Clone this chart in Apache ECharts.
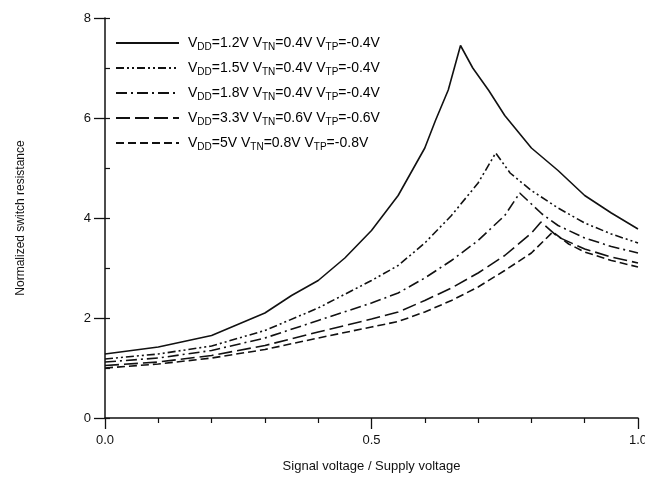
<!DOCTYPE html>
<html>
<head>
<meta charset="utf-8">
<script src="https://cdn.jsdelivr.net/npm/echarts@6/dist/echarts.min.js"></script>
<style>
html, body { margin: 0; padding: 0; background: #fff; }
#chart { width: 645px; height: 479px; }
</style>
</head>
<body>
<div id="chart"></div>
<script>
// supply / threshold labels for each curve
var vdd = ['1.2V', '1.5V', '1.8V', '3.3V', '5V'];
var vtn = ['0.4V', '0.4V', '0.4V', '0.6V', '0.8V'];
var vtp = ['-0.4V', '-0.4V', '-0.4V', '-0.6V', '-0.8V'];

// x = signal voltage / supply voltage, y = normalized switch resistance
var x1 = [0, 0.1, 0.2, 0.3, 0.35, 0.4, 0.45, 0.5, 0.55, 0.6, 0.62, 0.644, 0.667, 0.69, 0.72, 0.75, 0.8, 0.85, 0.9, 0.95, 1.0];
var y1 = [1.28, 1.42, 1.65, 2.1, 2.45, 2.75, 3.2, 3.75, 4.45, 5.4, 5.95, 6.56, 7.45, 7.0, 6.55, 6.05, 5.4, 4.95, 4.45, 4.1, 3.78];

var x2 = [0, 0.1, 0.2, 0.3, 0.4, 0.5, 0.55, 0.6, 0.65, 0.7, 0.733, 0.76, 0.8, 0.85, 0.9, 0.95, 1.0];
var y2 = [1.18, 1.28, 1.44, 1.75, 2.2, 2.75, 3.05, 3.5, 4.05, 4.7, 5.3, 4.9, 4.55, 4.2, 3.9, 3.68, 3.5];

var x3 = [0, 0.1, 0.2, 0.3, 0.4, 0.5, 0.55, 0.6, 0.65, 0.7, 0.75, 0.778, 0.8, 0.82, 0.85, 0.9, 0.95, 1.0];
var y3 = [1.12, 1.2, 1.35, 1.6, 1.95, 2.3, 2.5, 2.8, 3.15, 3.55, 4.05, 4.5, 4.28, 4.08, 3.85, 3.6, 3.43, 3.3];

var x4 = [0, 0.1, 0.2, 0.3, 0.4, 0.5, 0.55, 0.6, 0.65, 0.7, 0.75, 0.8, 0.818, 0.85, 0.9, 0.95, 1.0];
var y4 = [1.05, 1.12, 1.25, 1.45, 1.72, 1.98, 2.12, 2.35, 2.6, 2.9, 3.25, 3.7, 3.92, 3.62, 3.38, 3.22, 3.1];

var x5 = [0, 0.1, 0.2, 0.3, 0.4, 0.5, 0.55, 0.6, 0.65, 0.7, 0.75, 0.8, 0.84, 0.87, 0.9, 0.95, 1.0];
var y5 = [1.0, 1.08, 1.2, 1.37, 1.6, 1.82, 1.93, 2.12, 2.35, 2.62, 2.95, 3.3, 3.72, 3.48, 3.32, 3.15, 3.02];

var yTicks = [0, 2, 4, 6, 8];
var xTicks = [0, 0.5, 1.0];

var xsAll = [x1, x2, x3, x4, x5];
var ysAll = [y1, y2, y3, y4, y5];
var dashes = ['solid', [8, 3, 2, 3, 2, 3], [11, 4, 2, 4], [14, 5], [8, 4]];
var FONT = 'Liberation Sans';

function pairs(xs, ys) {
	var out = [];
	for (var i = 0; i < xs.length; i++) {
		out.push([xs[i], ys[i]]);
	}
	return out;
}

var seriesList = [];
for (var i = 0; i < 5; i++) {
	seriesList.push({
		name: 'VDD=' + vdd[i] + ' VTN=' + vtn[i] + ' VTP=' + vtp[i],
		type: 'line',
		data: pairs(xsAll[i], ysAll[i]),
		symbol: 'none',
		smooth: false,
		lineStyle: { color: '#111', width: 1.6, type: dashes[i] },
		itemStyle: { color: '#111' }
	});
}

var legendIdx = {};
for (var j = 0; j < 5; j++) legendIdx[seriesList[j].name] = j;

var option = {
	animation: false,
	backgroundColor: '#fff',
	grid: { left: 105, right: 7, top: 18, bottom: 61, outerBoundsMode: 'none' },
	legend: {
		orient: 'vertical',
		left: 110,
		top: 31,
		itemWidth: 63,
		itemHeight: 10,
		itemGap: 9,
		itemStyle: { color: 'transparent', borderWidth: 0 },
		data: seriesList.map(function(s) { return s.name; }),
		formatter: function(name) {
			var k = legendIdx[name];
			return 'V{s|DD}=' + vdd[k] + ' V{s|TN}=' + vtn[k] + ' V{s|TP}=' + vtp[k];
		},
		textStyle: {
			fontFamily: FONT, fontSize: 14, color: '#000', padding: [0, 0, 0, 4],
			rich: { s: { fontFamily: FONT, fontSize: 10, color: '#000', padding: [8, 0, 0, 0] } }
		}
	},
	xAxis: {
		type: 'value',
		min: 0, max: 1, interval: 0.5,
		name: 'Signal voltage / Supply voltage',
		nameLocation: 'middle',
		nameGap: 42,
		nameTextStyle: { fontFamily: FONT, fontSize: 13, color: '#111' },
		axisLine: { lineStyle: { color: '#111', width: 1.5 } },
		axisTick: { show: true, inside: false, length: 11, lineStyle: { color: '#111', width: 1.3 } },
		minorTick: { show: true, splitNumber: 5, length: 5, lineStyle: { color: '#111', width: 1.2 } },
		axisLabel: {
			fontFamily: FONT, fontSize: 13, color: '#111', margin: 16,
			formatter: function(v) { return xTicks.indexOf(v) >= 0 ? v.toFixed(1) : ''; }
		},
		splitLine: { show: false }
	},
	yAxis: [{
		type: 'value',
		min: 0, max: 8, interval: 2,
		name: 'Normalized switch resistance',
		nameLocation: 'middle',
		nameGap: 78,
		nameTextStyle: { fontFamily: FONT, fontSize: 12, color: '#111' },
		axisLine: { show: true, lineStyle: { color: '#111', width: 1.5 } },
		axisTick: { show: true, inside: false, length: 11, lineStyle: { color: '#111', width: 1.3 } },
		axisLabel: {
			fontFamily: FONT, fontSize: 13, color: '#111', margin: 14,
			formatter: function(v) { return yTicks.indexOf(v) >= 0 ? String(v) : ''; }
		},
		splitLine: { show: false }
	}, {
		type: 'value',
		position: 'left',
		min: 0, max: 8, interval: 1,
		axisLine: { show: false },
		axisTick: { show: true, inside: true, length: 5, lineStyle: { color: '#111', width: 1.2 } },
		axisLabel: { show: false },
		splitLine: { show: false }
	}],
	series: seriesList
};

var myChart = echarts.init(document.getElementById('chart'));
myChart.setOption(option);
</script>
</body>
</html>
